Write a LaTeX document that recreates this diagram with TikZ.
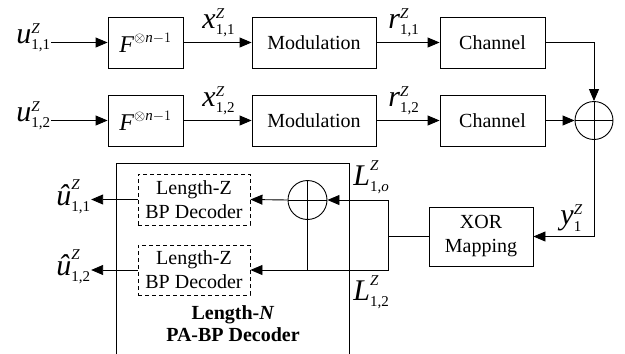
\documentclass[tikz,border=0pt]{standalone}
\usepackage{amsmath}
\usepackage{fontspec}
\setmainfont{Liberation Serif}
\usetikzlibrary{arrows.meta}
\DeclareMathSizes{30}{30}{15}{12}
\DeclareMathSizes{24}{24}{15}{12}
\DeclareMathSizes{20}{20}{14}{12}
\newcommand{\vlab}[3]{$\textit{#1}^{\textit{#2}}_{\text{#3}}$}
\newcommand{\hlab}[1]{$\text{\itshape\^{u}}^{\textit{Z}}_{\text{#1}}$}
\newcommand{\fpow}{$\textit{F}^{\otimes \textit{n}-1}$}
\begin{document}
\begin{tikzpicture}[x=1pt,y=-1pt, line width=0.9pt, font=\fontsize{20}{24}\selectfont,
  box/.style={draw, inner sep=0pt, minimum height=51pt, align=center},
  fbox/.style={box, minimum width=75pt, font=\fontsize{24}{26}\selectfont},
  dbox/.style={draw, dash pattern=on 4pt off 3pt, inner sep=0pt, minimum width=112pt, minimum height=51pt, align=center},
  sumc/.style={draw, circle, minimum size=38pt, inner sep=0pt,
    path picture={\draw (path picture bounding box.north) -- (path picture bounding box.south)
      (path picture bounding box.west) -- (path picture bounding box.east);}},
  arr/.style={-{Triangle[length=12pt,width=10pt]}},
  lbl/.style={inner sep=0pt, anchor=base west, font=\fontsize{30}{32}\selectfont}]
\useasboundingbox (0,0) rectangle (625,354);
% row 1
\node[lbl] (u1) at (16,43) {\vlab{u}{Z}{1,1}};
\node[fbox] (F1) at (145.5,42.5) {\fpow};
\node[box, minimum width=124pt] (M1) at (314,42.5) {Modulation};
\node[box, minimum width=105pt] (C1) at (492.5,42.5) {Channel};
% row 2
\node[lbl] (u2) at (16,121) {\vlab{u}{Z}{1,2}};
\node[fbox] (F2) at (145.5,120.5) {\fpow};
\node[box, minimum width=124pt] (M2) at (314,120.5) {Modulation};
\node[box, minimum width=105pt] (C2) at (492.5,120.5) {Channel};
\node[sumc] (S) at (594,120.5) {};
% wire labels
\node[lbl] (x1) at (202,28) {\vlab{x}{Z}{1,1}};
\node[lbl] (x2) at (202,106) {\vlab{x}{Z}{1,2}};
\node[lbl] (r1) at (388,28) {\vlab{r}{Z}{1,1}};
\node[lbl] (r2) at (388,106) {\vlab{r}{Z}{1,2}};
% decoder part
\node[box, minimum width=104pt, minimum height=59pt] (X) at (481,236.5) {XOR\\Mapping};
\node[lbl] (y1) at (560,224) {\vlab{y}{Z}{1}};
\coordinate (J) at (388,236.5);
\node[sumc, minimum size=39pt] (DS) at (307.5,200) {};
\node[dbox] (D1) at (194,199.5) {Length-Z\\BP Decoder};
\node[dbox, minimum height=50pt] (D2) at (194,270) {Length-Z\\BP Decoder};
\node[lbl] (h1) at (56,205) {\hlab{1,1}};
\node[lbl] (h2) at (56,275) {\hlab{1,2}};
\node[lbl] (L1) at (353,185) {\vlab{L}{Z}{1,\textit{o}}};
\node[lbl] (L2) at (353,300) {\vlab{L}{Z}{1,2}};
\node[inner sep=0pt, align=center, font=\fontsize{20}{22}\selectfont\bfseries] (T) at (233,324) {Length-\textit{N}\\PA-BP Decoder};
\coordinate (B1) at (116,354);
\coordinate (B2) at (116,163);
\coordinate (B3) at (349,163);
\coordinate (B4) at (349,354);
\draw (B1) -- (B2) -- (B3) -- (B4);
% connectors
\draw[arr] (u1.east |- F1.west) -- (F1.west);
\draw[arr] (F1) -- (M1);
\draw[arr] (M1) -- (C1);
\draw[arr] (u2.east |- F2.west) -- (F2.west);
\draw[arr] (F2) -- (M2);
\draw[arr] (M2) -- (C2);
\draw[arr] (C1.east) -| (S.north);
\draw[arr] (C2.east) -- (S.west);
\draw[arr] (S.south) |- (X.east);
\draw (X.west) -- (J);
\draw[arr] (J) |- (DS.east);
\draw[arr] (J) |- (D2.east);
\draw (DS.south) -- (DS.south |- D2.east);
\draw[arr] (DS.west) -- (D1.east);
\draw[arr] (D1.west) -- (h1.east |- D1.west);
\draw[arr] (D2.west) -- (h2.east |- D2.west);
\end{tikzpicture}
\end{document}
